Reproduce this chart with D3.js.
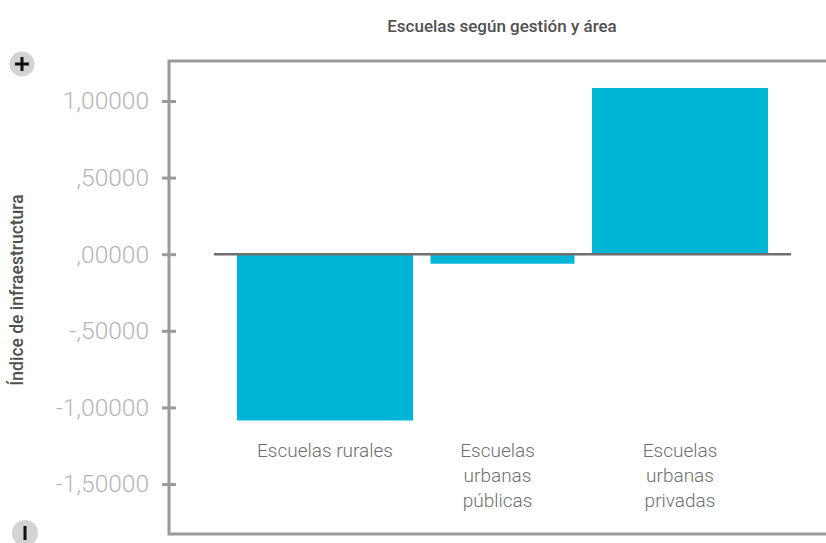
<!DOCTYPE html>
<html>
<head>
<meta charset="utf-8">
<script src="https://cdn.jsdelivr.net/npm/d3@7"></script>
<style>
  html, body { margin: 0; padding: 0; background: #fff; }
  svg { display: block; font-family: Roboto, "Noto Sans", sans-serif; }
</style>
</head>
<body>
<svg id="chart" width="826" height="543"></svg>
<script>
// Infrastructure index by school management and area
const categories = ["Escuelas rurales", "Escuelas urbanas públicas", "Escuelas urbanas privadas"];
const categoryLines = [["Escuelas rurales"], ["Escuelas", "urbanas", "públicas"], ["Escuelas", "urbanas", "privadas"]];
const values = [-1.085, -0.062, 1.085];
const yTicks = [1.0, 0.5, 0.0, -0.5, -1.0, -1.5];
const yTickLabels = ["1,00000", ",50000", ",00000", "-,50000", "-1,00000", "-1,50000"];

const svg = d3.select("#chart");
const frame = { left: 169, top: 61, bottom: 534, right: 830 };

const y = d3.scaleLinear().domain([-1.826, 1.261]).range([frame.bottom, frame.top]);
const x = d3.scaleBand().domain(categories).range([237, 768]).paddingInner(0.0085);
const barColor = "#00b6d6";
const narrowWidth = 144; // the middle bar is drawn narrower

// Bars
svg.append("g").selectAll("rect")
  .data(categories)
  .join("rect")
  .attr("x", (d, i) => {
    const w = i === 1 ? narrowWidth : x.bandwidth();
    return x(d) + (x.bandwidth() - w) / 2;
  })
  .attr("width", (d, i) => i === 1 ? narrowWidth : x.bandwidth())
  .attr("y", (d, i) => y(Math.max(0, values[i])))
  .attr("height", (d, i) => Math.abs(y(values[i]) - y(0)))
  .attr("fill", barColor);

// Zero baseline
svg.append("line")
  .attr("x1", 214).attr("x2", 791)
  .attr("y1", y(0)).attr("y2", y(0))
  .attr("stroke", "#6f6f6f").attr("stroke-width", 2.5);

// Frame: top, left, bottom
svg.append("path")
  .attr("d", `M${frame.right},${frame.top}H${frame.left}V${frame.bottom}H${frame.right}`)
  .attr("fill", "none").attr("stroke", "#9a9a9a").attr("stroke-width", 3);

// Y axis ticks and labels
const yAxis = d3.axisLeft(y)
  .tickValues(yTicks)
  .tickSize(0)
  .tickPadding(20)
  .tickFormat((d, i) => yTickLabels[i]);
const gy = svg.append("g").attr("transform", `translate(${frame.left},0)`).call(yAxis);
gy.select(".domain").remove();
gy.selectAll(".tick text")
  .attr("font-family", "Roboto, sans-serif")
  .attr("font-weight", 300)
  .attr("font-size", 24.5)
  .attr("fill", "#b5b5b5");
gy.selectAll(".tick").append("line")
  .attr("x1", -7).attr("x2", 7)
  .attr("stroke", "#9a9a9a").attr("stroke-width", 3);

// Category labels
const lab = svg.append("g").selectAll("text")
  .data(categories)
  .join("text")
  .attr("text-anchor", "middle")
  .attr("font-weight", 300)
  .attr("font-size", 19)
  .attr("fill", "#6e6e6e");
lab.each(function(d, i) {
  const cx = x(d) + x.bandwidth() / 2 - (i === 1 ? 5 : 0);
  d3.select(this).selectAll("tspan")
    .data(categoryLines[i])
    .join("tspan")
    .attr("x", cx)
    .attr("y", (t, j) => 457 + j * 25)
    .text(t => t);
});

// Title
svg.append("text")
  .attr("x", 502).attr("y", 32)
  .attr("text-anchor", "middle")
  .attr("font-weight", 500)
  .attr("font-size", 17)
  .attr("fill", "#505050")
  .text("Escuelas según gestión y área");

// Y axis title
svg.append("text")
  .attr("transform", `translate(23,${290}) rotate(-90)`)
  .attr("text-anchor", "middle")
  .attr("font-weight", 500)
  .attr("font-size", 17.5)
  .attr("fill", "#505050")
  .text("Índice de infraestructura");

// Plus / minus markers
const plus = svg.append("g").attr("transform", "translate(22,64)");
plus.append("circle").attr("r", 12.5).attr("fill", "#d3d3d3");
plus.append("path").attr("d", "M-7,0H7M0,-7V7").attr("stroke", "#111").attr("stroke-width", 3);

const minus = svg.append("g").attr("transform", "translate(25,533)");
minus.append("circle").attr("r", 13).attr("fill", "#d3d3d3");
minus.append("path").attr("d", "M0,-7V7").attr("stroke", "#111").attr("stroke-width", 3);
</script>
</body>
</html>
